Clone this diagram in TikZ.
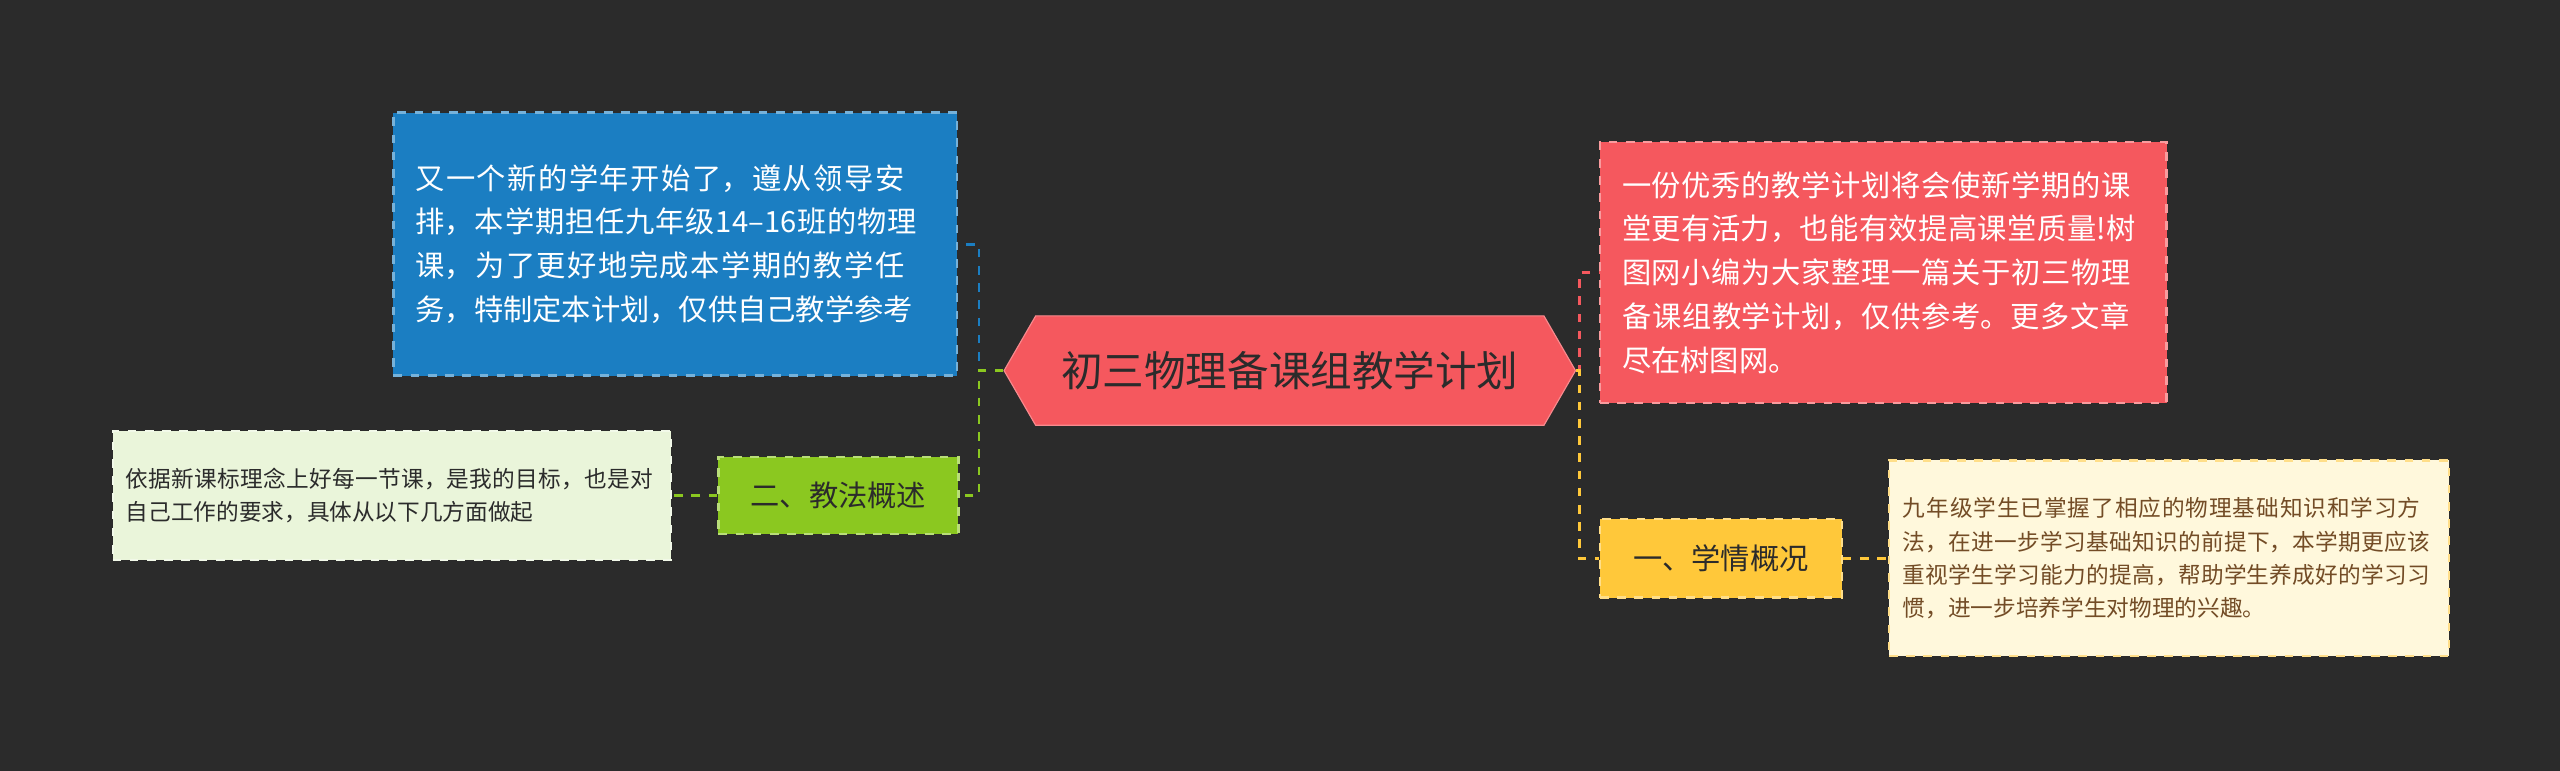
\documentclass[tikz,border=0pt]{standalone}
\usepackage{fontspec}
\setmainfont{Noto Sans CJK SC}
\XeTeXlinebreaklocale "zh"
\XeTeXlinebreakskip=0pt plus 1pt
\usetikzlibrary{shapes.symbols}
\definecolor{bgc}{HTML}{2B2B2B}
\definecolor{redc}{HTML}{F5585E}
\definecolor{bluec}{HTML}{1B7EC2}
\definecolor{greenc}{HTML}{8BC820}
\definecolor{lgreen}{HTML}{EAF5DA}
\definecolor{yellowc}{HTML}{FFC83A}
\definecolor{lyellow}{HTML}{FFF8DC}
\tikzset{
  box/.style={draw=#1!60!white, dashed, line width=0.8pt, inner sep=0pt, align=left},
  link/.style={draw=#1, dashed, line width=1pt},
}
\begin{document}
\begin{tikzpicture}[x=0.02cm,y=-0.02cm]
  \fill[bgc] (0,0) rectangle (1568,472);
  % centre
  \node[signal, signal to=east and west, signal pointer angle=120, fill=redc, draw=redc!70!white,
        minimum width=350*0.02cm, minimum height=67*0.02cm, font=\fontsize{14.5}{16}\selectfont,
        text=bgc] (root) at (790,227) {初三物理备课组教学计划};
  % left side
  \node[box=bluec, fill=bluec, text=white, minimum width=345*0.02cm, minimum height=161*0.02cm,
        text width=318*0.02cm, font=\fontsize{10.2}{15.3}\selectfont] (intro) at (413.5,149.5)
        {又一个新的学年开始了，遵从领导安排，本学期担任九年级14--16班的物理课，为了更好地完成本学期的教学任务，特制定本计划，仅供自己教学参考};
  \node[box=greenc, fill=greenc, text=bgc, minimum width=147*0.02cm, minimum height=47*0.02cm,
        font=\fontsize{10.2}{12}\selectfont] (method) at (513.5,303.5) {二、教法概述};
  \node[box=lgreen, fill=lgreen, text=bgc, minimum width=342*0.02cm, minimum height=79*0.02cm,
        text width=326*0.02cm, font=\fontsize{7.9}{11.6}\selectfont] (methodtxt) at (240,303.5)
        {依据新课标理念上好每一节课，是我的目标，也是对自己工作的要求，具体从以下几方面做起};
  % right side
  \node[box=redc, fill=redc, text=white, minimum width=347*0.02cm, minimum height=160*0.02cm,
        text width=320*0.02cm, font=\fontsize{10.2}{15.3}\selectfont] (summary) at (1153.5,167)
        {一份优秀的教学计划将会使新学期的课堂更有活力，也能有效提高课堂质量!树图网小编为大家整理一篇关于初三物理备课组教学计划，仅供参考。更多文章尽在树图网。};
  \node[box=yellowc, fill=yellowc, text=bgc, minimum width=148*0.02cm, minimum height=48*0.02cm,
        font=\fontsize{10.2}{12}\selectfont] (students) at (1054,342) {一、学情概况};
  \node[box=yellowc, fill=lyellow, text=brown!60!black, minimum width=343*0.02cm, minimum height=120*0.02cm,
        text width=326*0.02cm, font=\fontsize{7.9}{11.6}\selectfont] (studentstxt) at (1328.5,342)
        {九年级学生已掌握了相应的物理基础知识和学习方法，在进一步学习基础知识的前提下，本学期更应该重视学生学习能力的提高，帮助学生养成好的学习习惯，进一步培养学生对物理的兴趣。};
  % connectors
  \draw[link=bluec] (root.west) -- ++(-15,0) |- (intro.east);
  \draw[link=greenc] (root.west) -- ++(-15,0) |- (method.east);
  \draw[link=greenc] (method.west) -- (methodtxt.east);
  \draw[link=redc] (root.east) -- ++(2,0) |- (summary.west);
  \draw[link=yellowc] (root.east) -- ++(2,0) |- (students.west);
  \draw[link=yellowc] (students.east) -- (studentstxt.west);
\end{tikzpicture}
\end{document}
